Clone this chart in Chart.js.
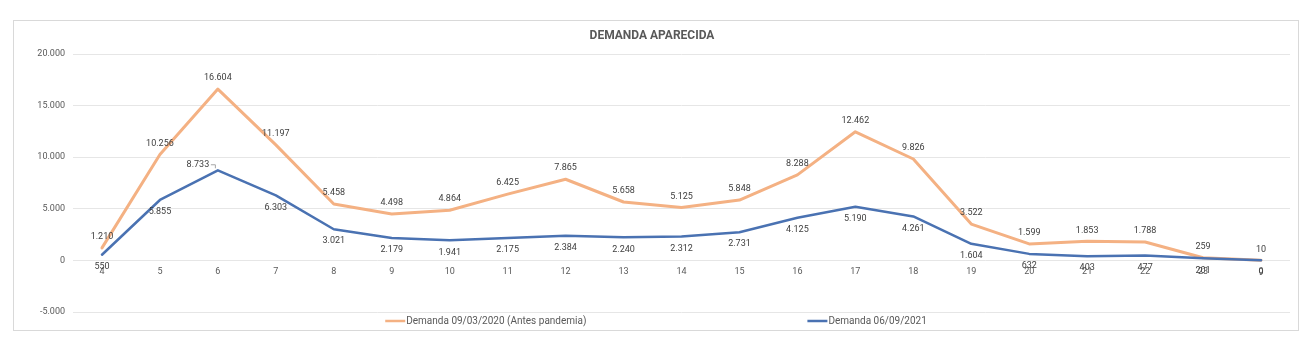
<!DOCTYPE html>
<html>
<head>
<meta charset="utf-8">
<script src="https://cdn.jsdelivr.net/npm/chart.js@4"></script>
<style>
  html, body { margin: 0; padding: 0; background: #fff; }
  #frame {
    position: absolute;
    left: 13px;
    top: 20px;
    width: 1284px;
    height: 309px;
    border: 1px solid #d9d9d9;
  }
  #chart { display: block; }
</style>
</head>
<body>
<div id="frame"><canvas id="chart" width="1284" height="309"></canvas></div>
<script>
// ─── DATI ─────────────────────────────────────────────────────────
const hours = ["4", "5", "6", "7", "8", "9", "10", "11", "12", "13", "14",
  "15", "16", "17", "18", "19", "20", "21", "22", "23", "0"];
const demand2020 = [1210, 10256, 16604, 11197, 5458, 4498, 4864, 6425, 7865,
  5658, 5125, 5848, 8288, 12462, 9826, 3522, 1599, 1853, 1788, 259, 10];
const demand2021 = [550, 5855, 8733, 6303, 3021, 2179, 1941, 2175, 2384,
  2240, 2312, 2731, 4125, 5190, 4261, 1604, 632, 403, 477, 201, 9];
const seriesNames = ["Demanda 09/03/2020 (Antes pandemia)", "Demanda 06/09/2021"];
const yTicks = [-5000, 0, 5000, 10000, 15000, 20000];

const FONT = "Roboto, 'Liberation Sans', sans-serif";
const TEXT = "#595959";

// 16604 -> "16.604"
const fmt = (v) => String(v).replace(/\B(?=(\d{3})+(?!\d))/g, ".");

// ─── ETICHETTE VALORI ─────────────────────────────────────────────
const valueLabels = {
  id: "valueLabels",
  afterDatasetsDraw(chart) {
    const ctx = chart.ctx;
    ctx.save();
    ctx.font = `9px ${FONT}`;
    ctx.fillStyle = "#404040";
    ctx.textAlign = "center";
    ctx.textBaseline = "middle";
    chart.data.datasets.forEach((ds, i) => {
      const meta = chart.getDatasetMeta(i);
      meta.data.forEach((pt, j) => {
        let x = pt.x;
        let y = pt.y + ds.labelShift;
        // 8.733 sta in alto a sinistra con linea guida
        if (i === 1 && j === 2) {
          x = pt.x - 20;
          y = pt.y - 6;
          ctx.strokeStyle = "#a6a6a6";
          ctx.lineWidth = 1;
          ctx.beginPath();
          ctx.moveTo(x + 13, y + 0.5);
          ctx.lineTo(x + 17.5, y + 0.5);
          ctx.lineTo(x + 17.5, y + 4);
          ctx.stroke();
        }
        ctx.fillText(fmt(ds.data[j]), x, y);
      });
    });
    ctx.restore();
  },
};

// ─── LEGENDA ──────────────────────────────────────────────────────
const bottomLegend = {
  id: "bottomLegend",
  afterDraw(chart) {
    const ctx = chart.ctx;
    const area = chart.chartArea;
    const y = area.bottom + 9;
    const lineLen = 20;
    const gap = 221;
    ctx.save();
    ctx.font = `10px ${FONT}`;
    ctx.textBaseline = "middle";
    ctx.textAlign = "left";
    const widths = chart.data.datasets.map((d) => lineLen + 1 + ctx.measureText(d.label).width);
    const total = widths[0] + gap + widths[1];
    let x = chart.width / 2 - total / 2;
    chart.data.datasets.forEach((d, i) => {
      ctx.strokeStyle = d.borderColor;
      ctx.lineWidth = 2.5;
      ctx.beginPath();
      ctx.moveTo(x, y);
      ctx.lineTo(x + lineLen, y);
      ctx.stroke();
      ctx.fillStyle = TEXT;
      ctx.fillText(d.label, x + lineLen + 1, y);
      x += widths[i] + gap;
    });
    ctx.restore();
  },
};

// ─── GRAFICO ──────────────────────────────────────────────────────
const ctx = document.getElementById("chart").getContext("2d");

new Chart(ctx, {
  type: "line",
  data: {
    labels: hours,
    datasets: [
      {
        label: seriesNames[0],
        data: demand2020,
        borderColor: "#f4b183",
        borderWidth: 3,
        pointRadius: 0,
        tension: 0,
        borderJoinStyle: "round",
        borderCapStyle: "round",
        labelShift: -11,
        order: 1,
      },
      {
        label: seriesNames[1],
        data: demand2021,
        borderColor: "#4a72b2",
        borderWidth: 2.5,
        pointRadius: 0,
        tension: 0,
        borderJoinStyle: "round",
        borderCapStyle: "round",
        labelShift: 12,
        order: 0,
      },
    ],
  },
  options: {
    responsive: false,
    animation: false,
    layout: { padding: { left: 0, right: 8, top: 0, bottom: 18 } },
    plugins: {
      legend: { display: false },
      tooltip: { enabled: false },
      title: {
        display: true,
        text: "DEMANDA APARECIDA",
        color: TEXT,
        font: { family: FONT, size: 12, weight: "bold" },
        padding: { top: 8, bottom: 10.6 },
      },
    },
    scales: {
      x: {
        position: { y: 0 },
        offset: true,
        grid: { display: false, drawTicks: false },
        border: { display: false },
        ticks: {
          color: TEXT,
          font: { family: FONT, size: 9 },
          padding: 6,
          maxRotation: 0,
          autoSkip: false,
        },
      },
      y: {
        min: yTicks[0],
        max: yTicks[yTicks.length - 1],
        afterBuildTicks: (s) => { s.ticks = yTicks.map((v) => ({ value: v })); },
        afterFit: (s) => { s.width = 59; },
        grid: { color: "#e6e6e6", drawTicks: false },
        border: { display: false },
        ticks: {
          color: TEXT,
          font: { family: FONT, size: 9 },
          padding: 8,
          callback: (v) => fmt(v),
        },
      },
    },
  },
  plugins: [valueLabels, bottomLegend],
});
</script>
</body>
</html>
